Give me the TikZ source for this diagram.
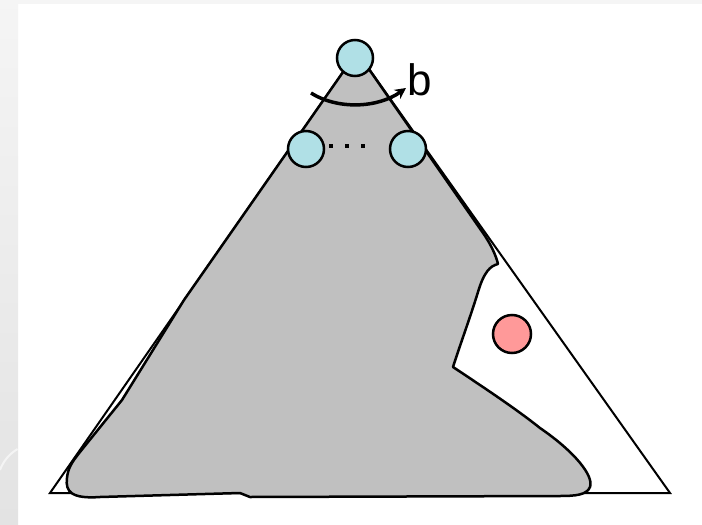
\documentclass[tikz,border=0pt]{standalone}
\usepackage{fontspec}
\setmainfont{Liberation Sans}
\usetikzlibrary{arrows.meta}
\definecolor{blobgray}{RGB}{192,192,192}
\definecolor{ballblue}{RGB}{176,224,230}
\definecolor{ballred}{RGB}{255,153,153}
\tikzset{
  tri/.style={draw=black,line width=2pt,line join=miter},
  blob/.style={draw=black,fill=blobgray,line width=2.5pt,line join=round},
  ball/.style={circle,draw=black,line width=2.5pt,minimum size=36pt,inner sep=0pt},
  dotsq/.style={fill=black,minimum size=4.5pt,inner sep=0pt},
  rot/.style={line width=3.5pt,-{Stealth[length=11pt,width=11pt]}},
  lbl/.style={font=\fontsize{44}{44}\selectfont,inner sep=0pt}
}
\begin{document}
\begin{tikzpicture}[x=1pt,y=-1pt]
\useasboundingbox (0,0) rectangle (702,525);
% slide background
\fill[white] (0,0) rectangle (702,525);
\shade[top color=gray!8,bottom color=gray!22] (0,0) rectangle (18,525);
\fill[gray!8] (18,0) rectangle (702,4);
\draw[white,line width=2pt,opacity=0.6] (0,470) arc[start angle=200,end angle=240,radius=40] ;
% triangle
\coordinate (A) at (357,52);
\coordinate (L) at (50,493);
\coordinate (R) at (670,493);
\draw[tri] (A) -- (L) -- (R) -- cycle;
% gray region
\draw[blob] (357,52) -- (483,233)
  .. controls (490,243) and (496,255) .. (498,264)
  .. controls (490,266) and (484,272) .. (478,292)
  .. controls (470,318) and (460,345) .. (453,367)
  .. controls (480,385) and (515,408) .. (540,428)
  .. controls (575,452) and (594,476) .. (590,487)
  .. controls (587,495) and (575,496) .. (560,496)
  -- (250,497) -- (240,493)
  -- (100,497)
  .. controls (72,499) and (65,492) .. (67,478)
  .. controls (68,468) and (72,462) .. (80,452)
  -- (122,400) -- (184,300) -- cycle;
% circles
\node[ball,fill=ballblue] (top) at (355,58) {};
\node[ball,fill=ballblue] (left) at (306,149) {};
\node[ball,fill=ballblue] (right) at (408,149) {};
\node[ball,fill=ballred,minimum size=38pt] (red) at (512,334) {};
% dots
\node[dotsq] (d1) at (331,146) {};
\node[dotsq] (d2) at (347,146) {};
\node[dotsq] (d3) at (363,146) {};
% rotation arrow
\coordinate (as) at (311,93);
\coordinate (ae) at (406,88);
\draw[rot] (as) .. controls (338,110) and (378,108) .. (ae);
\node[lbl] (b) at (420,80) {b};
\end{tikzpicture}
\end{document}
